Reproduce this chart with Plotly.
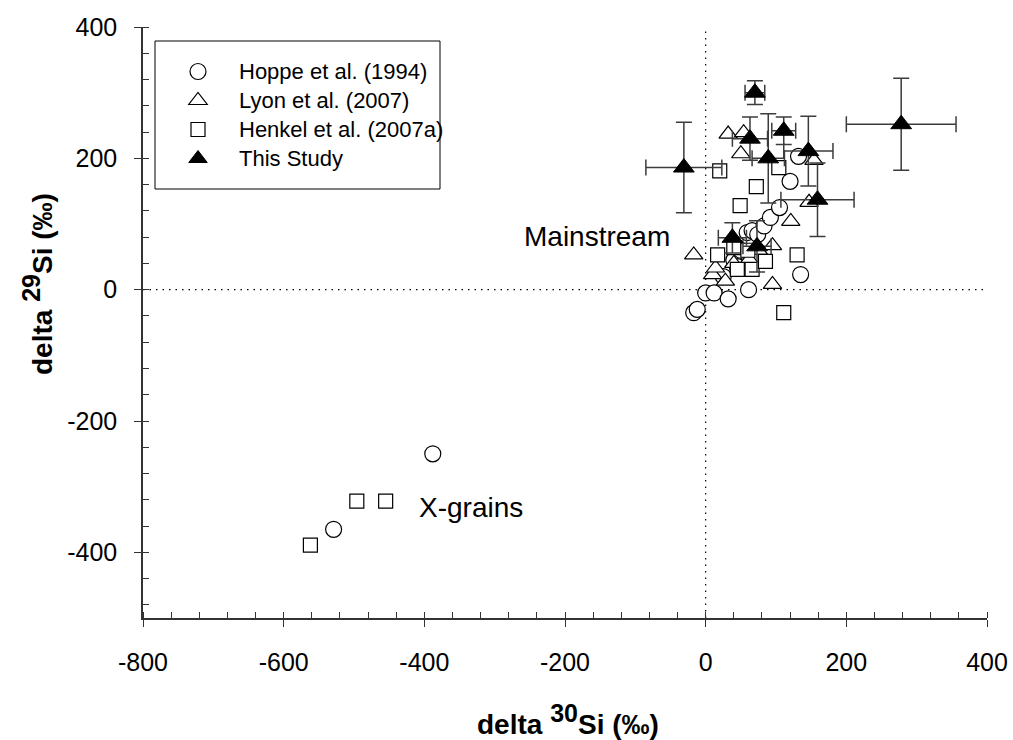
import plotly.graph_objects as go

# ---------------- data ----------------
hoppe_x = [-17, -12, 0, 12, 32, 61, 135, 25, 40, 50, 59, 66, 74, 83, 92, 105, 120, 132, 45, -388, -529]
hoppe_y = [-35, -30, -5, -5, -14, 0, 23, 20, 45, 60, 87, 90, 84, 97, 110, 125, 165, 203, 35, -250, -365]

lyon_x = [-17, 10, 14, 28, 62, 95, 95, 121, 147, 154, 32, 54, 50, 40, 75]
lyon_y = [53, 23, 33, 13, 46, 8, 67, 104, 133, 197, 237, 239, 207, 40, 60]

henkel_x = [20, 72, 49, 104, 17, 45, 66, 85, 130, 111, 40, 60, -562, -496, -455]
henkel_y = [181, 157, 128, 186, 53, 31, 31, 43, 53, -35, 64, 60, -389, -322, -322]

study_x = [-31, 70, 278, 146, 159, 111, 89, 63, 38, 73]
study_y = [186, 300, 252, 211, 137, 242, 200, 230, 79, 66]
study_ex = [54, 14, 78, 35, 52, 17, 23, 25, 20, 20]
study_ey = [69, 18, 70, 53, 56, 21, 68, 33, 23, 39]

series_names = ["Hoppe et al. (1994)", "Lyon et al. (2007)", "Henkel et al. (2007a)", "This Study"]

x_range = [-800, 400]
y_range = [-500, 400]
x_ticks = [-800, -600, -400, -200, 0, 200, 400]
x_ticktext = ["-800", "-600", "-400", "-200", "0", "200", "400"]
y_ticks = [-400, -200, 0, 200, 400]
y_ticktext = ["-400", "-200", "0", "200", "400"]

FONT = "Arial, Liberation Sans, sans-serif"

# plot area in pixels
W, H = 1013, 740
L, R, T, B = 143, 987, 27, 618
PW, PH = R - L, B - T


def px(xp):
    return (xp - L) / PW


def py(yp):
    return (B - yp) / PH


def leg(name):
    return "<span style='font-size:22px'>%s</span>" % name


fig = go.Figure()

line_w = 1.2
fig.add_trace(go.Scatter(
    x=hoppe_x, y=hoppe_y, mode="markers", name=leg(series_names[0]),
    marker=dict(symbol="circle", size=16, color="white", line=dict(color="black", width=line_w)),
))
fig.add_trace(go.Scatter(
    x=lyon_x, y=lyon_y, mode="markers", name=leg(series_names[1]),
    marker=dict(symbol="triangle-up", size=16, color="white", line=dict(color="black", width=line_w)),
))
fig.add_trace(go.Scatter(
    x=henkel_x, y=henkel_y, mode="markers", name=leg(series_names[2]),
    marker=dict(symbol="square", size=14, color="white", line=dict(color="black", width=line_w)),
))
fig.add_trace(go.Scatter(
    x=study_x, y=study_y, mode="markers", name=leg(series_names[3]),
    marker=dict(symbol="triangle-up", size=18, color="black", line=dict(color="black", width=1)),
    error_x=dict(type="data", array=study_ex, color="#3c3c3c", thickness=1.5, width=8),
    error_y=dict(type="data", array=study_ey, color="#3c3c3c", thickness=1.5, width=8),
))

# dotted zero lines
dot = "1.5px,5px"
shapes = [
    dict(type="line", xref="x", yref="y", x0=0, x1=0, y0=y_range[0], y1=y_range[1],
         line=dict(color="black", width=1.2, dash=dot), layer="below"),
    dict(type="line", xref="x", yref="y", x0=x_range[0], x1=x_range[1], y0=0, y1=0,
         line=dict(color="black", width=1.2, dash=dot), layer="below"),
    # legend frame
    dict(type="rect", xref="paper", yref="paper", x0=px(155), x1=px(440), y0=py(41), y1=py(189),
         line=dict(color="black", width=1), fillcolor="rgba(0,0,0,0)", layer="below"),
]

annotations = [
    dict(text="Mainstream", x=-155, y=81, xref="x", yref="y", showarrow=False,
         font=dict(family=FONT, size=28, color="black")),
    dict(text="X-grains", x=-334, y=-331, xref="x", yref="y", showarrow=False,
         font=dict(family=FONT, size=28, color="black")),
    dict(text="<b>delta <sup><span style='font-size:25px'>30</span></sup>Si (‰)</b>",
         x=px(568), y=py(719), xref="paper", yref="paper", showarrow=False,
         xanchor="center", yanchor="middle",
         font=dict(family=FONT, size=28, color="black")),
    dict(text="<b>delta <sup><span style='font-size:25px'>29</span></sup>Si (‰)</b>",
         x=px(37), y=py(284), xref="paper", yref="paper", showarrow=False,
         xanchor="center", yanchor="middle", textangle=-90,
         font=dict(family=FONT, size=28, color="black")),
]

axis_common = dict(
    showgrid=False, zeroline=False, showline=True, linecolor="#333333", linewidth=1.5,
    tickcolor="#333333", tickwidth=1.2,
    tickfont=dict(family=FONT, size=25, color="black"),
)
minor_in = dict(dtick=40, tick0=0, ticks="inside", ticklen=6, tickcolor="#333333", tickwidth=1.2)

fig.update_layout(
    width=W, height=H,
    margin=dict(l=L, r=W - R, t=T, b=H - B, autoexpand=False),
    plot_bgcolor="white", paper_bgcolor="white",
    showlegend=True,
    legend=dict(
        x=px(157), y=py(52), xanchor="left", yanchor="top",
        bgcolor="rgba(0,0,0,0)", borderwidth=0,
        font=dict(family=FONT, size=20, color="black"),
        itemwidth=72, tracegroupgap=0,
    ),
    xaxis=dict(
        range=x_range, tickmode="array", tickvals=x_ticks, ticktext=x_ticktext,
        ticks="outside", ticklen=7, ticklabelstandoff=14,
        minor=minor_in, **axis_common,
    ),
    yaxis=dict(
        range=y_range, tickmode="array", tickvals=y_ticks, ticktext=y_ticktext,
        ticks="outside", ticklen=7, ticklabelstandoff=12,
        minor=minor_in, **axis_common,
    ),
    xaxis2=dict(
        overlaying="x", matches="x", side="top", anchor="y",
        range=x_range, tickmode="array", tickvals=x_ticks, showticklabels=False,
        ticks="inside", ticklen=9, minor=minor_in, **axis_common,
    ),
    yaxis2=dict(
        overlaying="y", matches="y", side="right", anchor="x",
        range=y_range, tickmode="array", tickvals=y_ticks, showticklabels=False,
        ticks="inside", ticklen=9, minor=minor_in, **axis_common,
    ),
    shapes=shapes,
    annotations=annotations,
)

fig.write_html(
    "out.html",
    config={"displayModeBar": False},
    post_script="document.body.style.margin='0';document.body.style.padding='0';",
)
